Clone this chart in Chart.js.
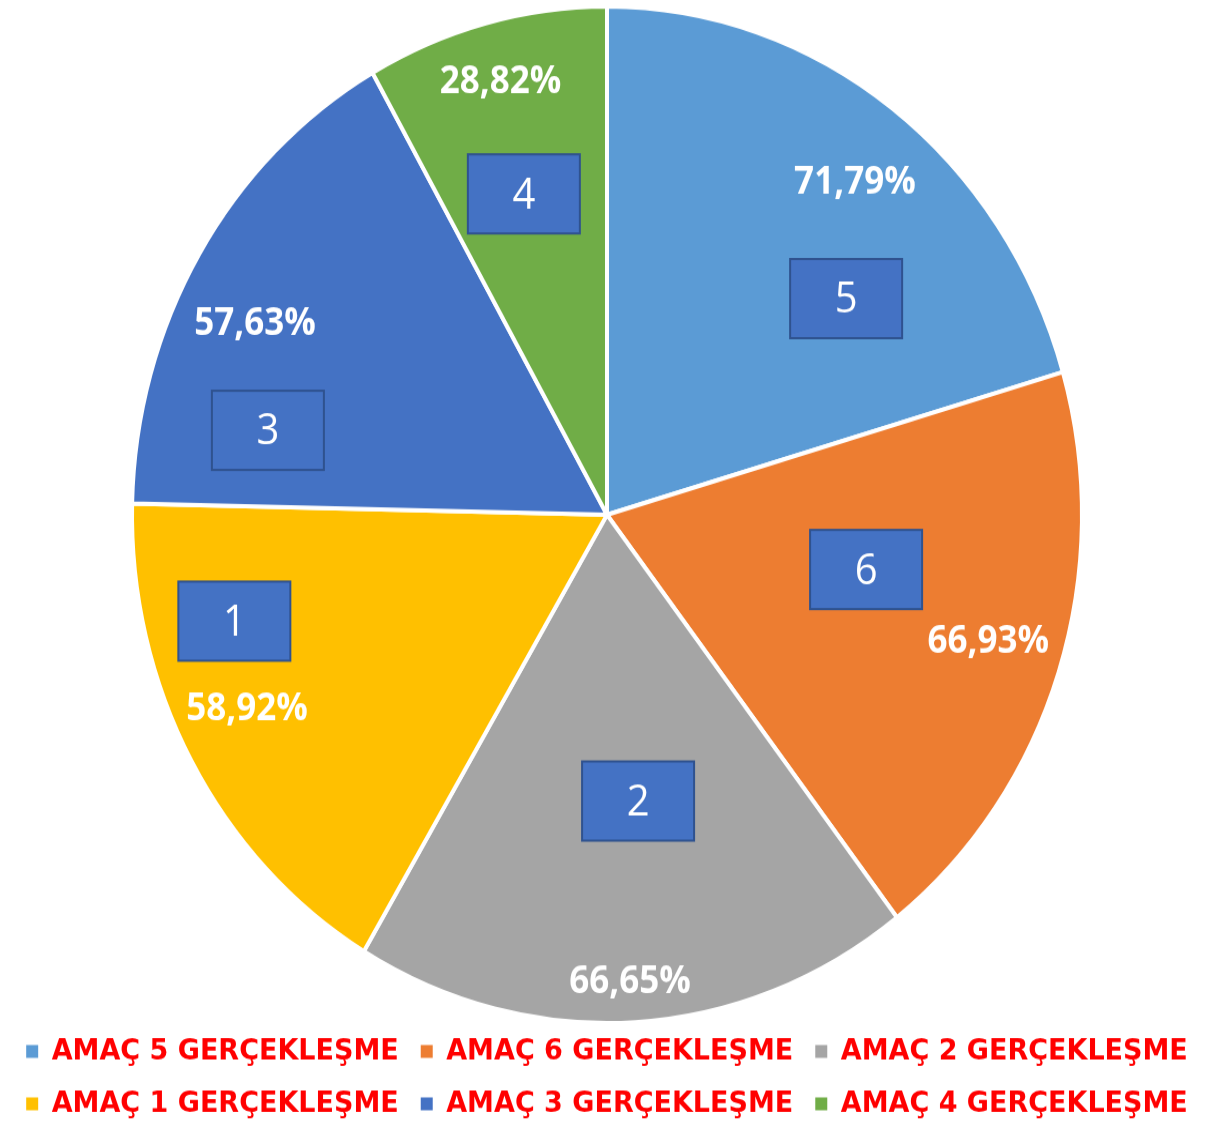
<!DOCTYPE html>
<html>
<head>
<meta charset="utf-8">
<script src="https://cdn.jsdelivr.net/npm/chart.js@4.4.0/dist/chart.umd.min.js"></script>
<style>
  html, body { margin: 0; padding: 0; background: #fff; }
</style>
</head>
<body>
<!-- drawn at 1055 high and shown at 1129: the original picture is stretched a little vertically -->
<canvas id="pie" width="1224" height="1055" style="width:1224px;height:1129px"></canvas>
<script>
const categories = ['AMAÇ 5 GERÇEKLEŞME', 'AMAÇ 6 GERÇEKLEŞME', 'AMAÇ 2 GERÇEKLEŞME',
                    'AMAÇ 1 GERÇEKLEŞME', 'AMAÇ 3 GERÇEKLEŞME', 'AMAÇ 4 GERÇEKLEŞME'];
const goalNumbers = ['5', '6', '2', '1', '3', '4'];
const realization = [71.79, 66.93, 66.65, 58.92, 57.63, 28.82];
const sliceColors = ['#5B9BD5', '#ED7D31', '#A5A5A5', '#FFC000', '#4472C4', '#70AD47'];

// where the labels sit inside each slice: [share of the sweep, share of the radius]
const percentSpots = [[0.525, 0.835], [0.49, 0.841], [0.506, 0.922], [0.536, 0.849], [0.433, 0.831], [0.50, 0.879]];
const boxSpots = [[0.676, 0.659], [0.40, 0.556], [0.453, 0.567], [0.732, 0.812], [0.20, 0.733], [0.476, 0.655]];

const sliceLabels = {
  id: 'sliceLabels',
  afterDatasetsDraw(chart) {
    const ctx = chart.ctx;
    const arcs = chart.getDatasetMeta(0).data;
    arcs.forEach((arc, i) => {
      const p = arc.getProps(['x', 'y', 'startAngle', 'endAngle', 'outerRadius'], true);
      const spot = s => {
        const a = p.startAngle + s[0] * (p.endAngle - p.startAngle);
        const r = s[1] * p.outerRadius;
        return [p.x + Math.cos(a) * r, p.y + Math.sin(a) * r];
      };
      ctx.save();
      ctx.textAlign = 'center';
      ctx.textBaseline = 'middle';

      // percentage
      const [px, py] = spot(percentSpots[i]);
      ctx.fillStyle = '#FFFFFF';
      ctx.font = 'bold 35px "Open Sans"';
      ctx.fillText(realization[i].toFixed(2).replace('.', ',') + '%', px, py);

      // numbered box
      const [bx, by] = spot(boxSpots[i]);
      const w = 112, h = 74;
      ctx.fillStyle = '#4472C4';
      ctx.fillRect(bx - w / 2, by - h / 2, w, h);
      ctx.strokeStyle = '#2F528F';
      ctx.lineWidth = 2;
      ctx.strokeRect(bx - w / 2, by - h / 2, w, h);
      ctx.fillStyle = '#FFFFFF';
      ctx.font = '40px "Open Sans"';
      ctx.fillText(goalNumbers[i], bx, by + 2);
      ctx.restore();
    });
  }
};

new Chart(document.getElementById('pie'), {
  type: 'pie',
  data: {
    labels: categories,
    datasets: [{
      data: realization,
      backgroundColor: sliceColors,
      borderColor: '#FFFFFF',
      borderWidth: 4
    }]
  },
  options: {
    responsive: false,
    devicePixelRatio: 1,
    animation: false,
    radius: 475,
    layout: { padding: { top: 15, bottom: 0, left: 0, right: 10 } },
    plugins: {
      tooltip: { enabled: false },
      legend: {
        position: 'bottom',
        labels: {
          color: '#FF0000',
          boxWidth: 12,
          boxHeight: 12,
          padding: 22,
          font: { family: 'DejaVu Sans', weight: 'bold', size: 27 },
          generateLabels(chart) {
            return Chart.overrides.pie.plugins.legend.labels.generateLabels(chart).map(item => {
              item.strokeStyle = item.fillStyle;
              item.lineWidth = 0;
              return item;
            });
          }
        }
      }
    }
  },
  plugins: [sliceLabels]
});
</script>
</body>
</html>
